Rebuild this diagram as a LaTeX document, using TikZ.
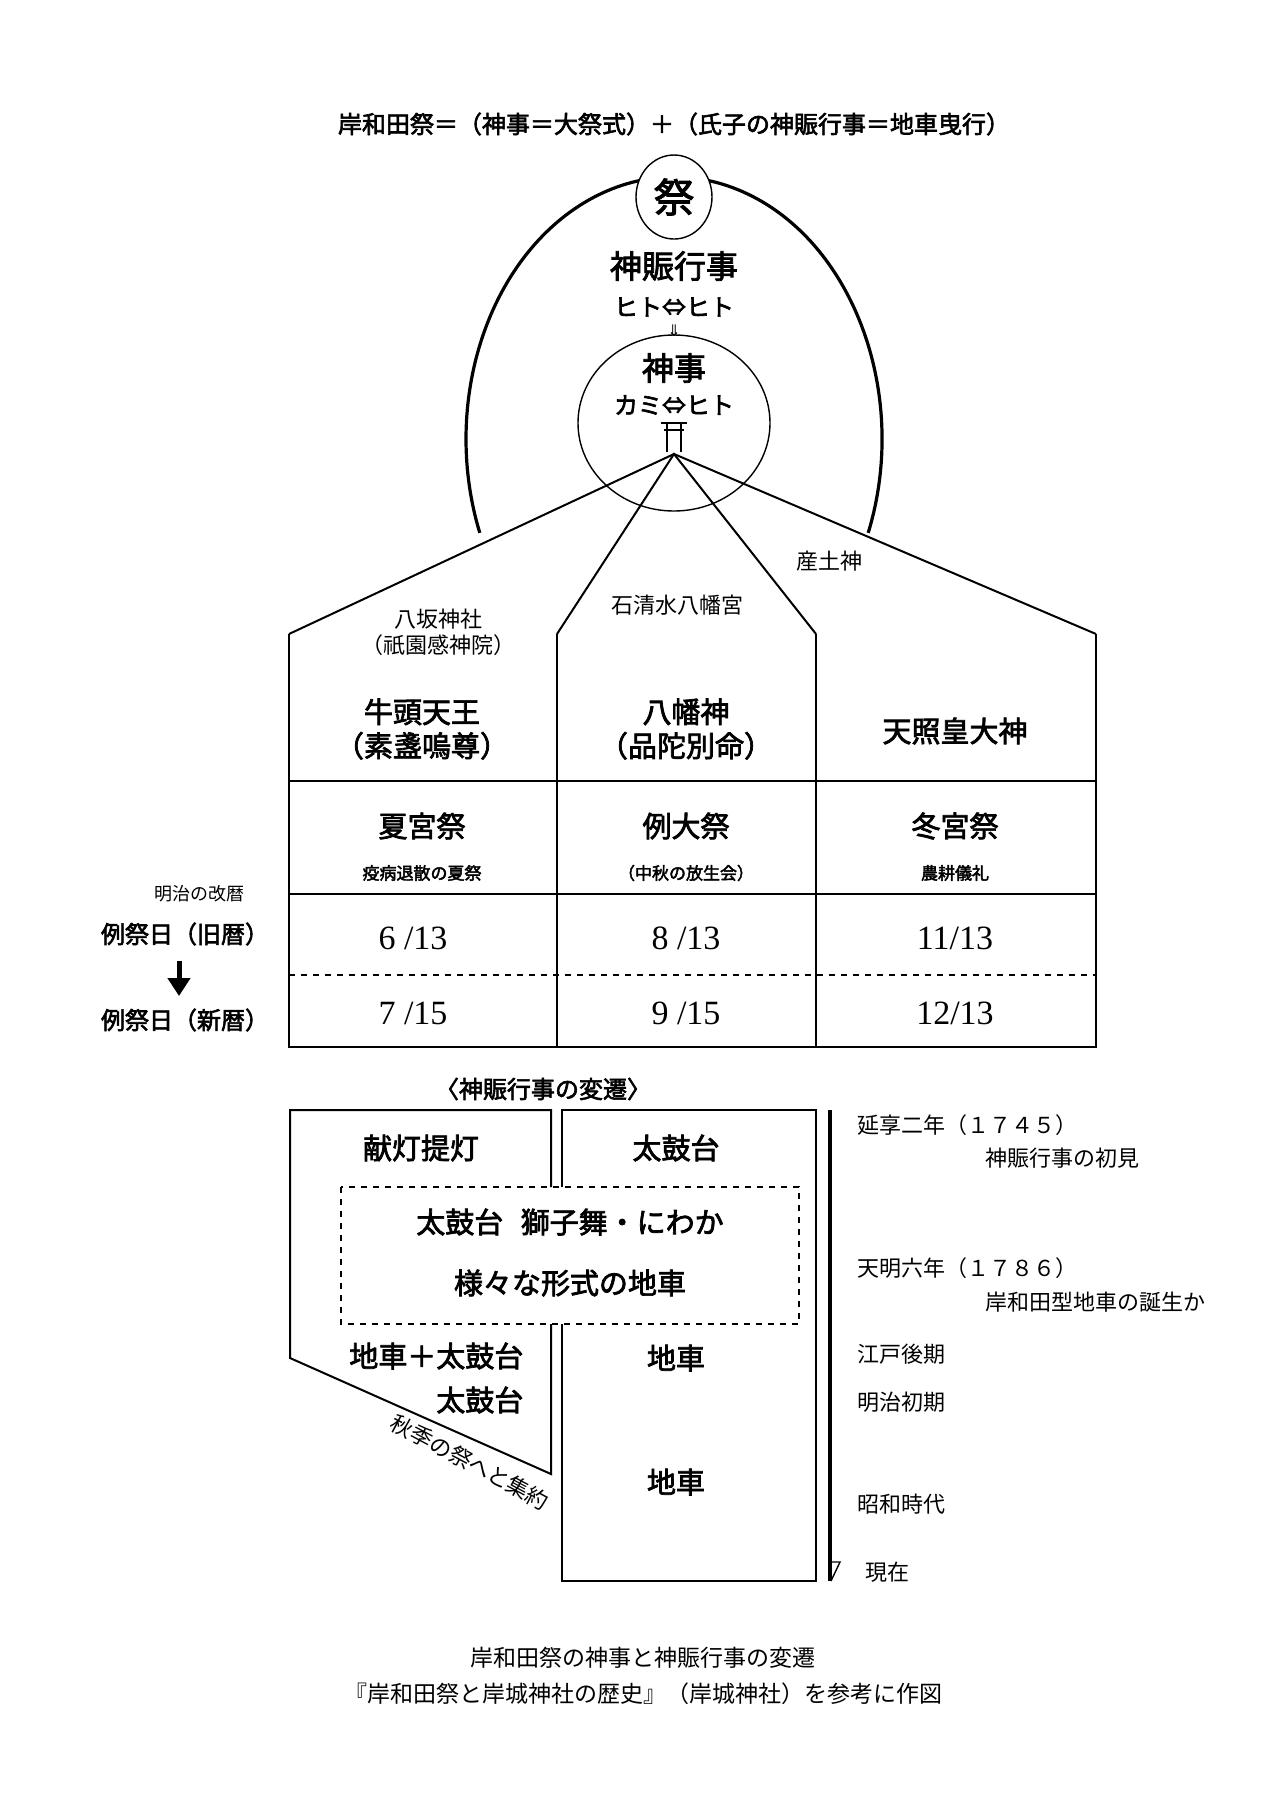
\documentclass[tikz,border=0pt]{standalone}
\usepackage{fontspec}
\setmainfont{Liberation Serif}
\newfontfamily\jp{Noto Sans CJK JP}
\newfontfamily\jpb{Noto Sans CJK JP}[FakeBold=2.5]
\newfontfamily\dejavu{DejaVu Sans}
\usetikzlibrary{arrows.meta, positioning, calc}

\begin{document}
\begin{tikzpicture}[
		x=0.5pt, y=-0.5pt,
		line width=1pt,
		heavy/.style={line width=1.6pt},
		thin/.style={line width=0.7pt},
		bigtxt/.style={font=\jpb\fontsize{14.5}{17}\selectfont, align=center},
		subtxt/.style={font=\jpb\fontsize{8.5}{10}\selectfont},
		labtxt/.style={font=\jp\fontsize{11}{13}\selectfont, align=center},
		datetxt/.style={font=\fontsize{17}{20}\selectfont},
		timetxt/.style={font=\jp\fontsize{11}{13}\selectfont, anchor=west}
		]
		
		\useasboundingbox (0,0) rectangle (1280,1811);
		
		% ---- Title ----
		\node[font=\jpb\fontsize{12}{14}\selectfont] (title) at (674,124)
		{岸和田祭＝（神事＝大祭式）＋（氏子の神賑行事＝地車曳行）};
		
		% ---- Ellipses ----
		\draw[heavy] ([shift={(21:208 and 262)}]674,439) arc[start angle=21, end angle=-201, x radius=208, y radius=262];
		\draw[thin, fill=white] (674,197) ellipse[x radius=38, y radius=42];
		\node[font=\jpb\fontsize{20}{22}\selectfont] (matsuri) at (674,197) {祭};
		\draw[thin] (674,423) ellipse[x radius=96, y radius=88];
		
		\node[font=\jpb\fontsize{16}{18}\selectfont] (nigiwai) at (674,266) {神賑行事};
		\node[font=\jpb\fontsize{12}{14}\selectfont] (hito) at (674,307) {ヒト⇔ヒト};
		\node[font=\dejavu\fontsize{8}{9}\selectfont] (down) at (674,331) {⇓};
		\node[font=\jpb\fontsize{16}{18}\selectfont] (shinji) at (674,368) {神事};
		\node[font=\jpb\fontsize{12}{14}\selectfont] (kami) at (674,405) {カミ⇔ヒト};
		% torii
		\coordinate (apex) at (674,454);
		\draw[thin] (661,423) -- (687,423);
		\draw[thin] (664,430) -- (684,430);
		\draw[thin] (667,423) -- (667,452);
		\draw[thin] (681,423) -- (681,452);
		
		% ---- Shrine building ----
		\coordinate (wl) at (289,634);
		\coordinate (d1) at (557,634);
		\coordinate (d2) at (816,634);
		\coordinate (wr) at (1096,634);
		\draw (wl) -- (apex) -- (wr);
		\draw (d1) -- (apex) -- (d2);
		\draw (wl) -- (289,1047) -- (1096,1047) -- (wr);
		\draw (d1) -- (557,1047);
		\draw (d2) -- (816,1047);
		\draw (289,781) -- (1096,781);
		\draw (289,894) -- (1096,894);
		\draw[thin, dashed] (289,975) -- (1096,975);
		
		\node[labtxt] (yasaka) at (438,632) {八坂神社\\（祇園感神院）};
		\node[labtxt] (iwashimizu) at (677,605) {石清水八幡宮};
		\node[labtxt] (ubusuna) at (829,561) {産土神};
		
		\node[bigtxt] (gozu) at (422,729) {牛頭天王\\（素盞嗚尊）};
		\node[bigtxt] (hachiman) at (686,729) {八幡神\\（品陀別命）};
		\node[bigtxt] (amaterasu) at (955,731) {天照皇大神};
		
		\node[bigtxt] (natsu) at (422,826) {夏宮祭};
		\node[subtxt] (natsusub) at (422,873) {疫病退散の夏祭};
		\node[bigtxt] (rei) at (686,826) {例大祭};
		\node[subtxt] (reisub) at (686,873) {（中秋の放生会）};
		\node[bigtxt] (fuyu) at (955,826) {冬宮祭};
		\node[subtxt] (fuyusub) at (955,873) {農耕儀礼};
		
		\node[datetxt] (o1) at (413,938) {6 /13};
		\node[datetxt] (o2) at (686,938) {8 /13};
		\node[datetxt] (o3) at (955,938) {11/13};
		\node[datetxt] (n1) at (413,1013) {7 /15};
		\node[datetxt] (n2) at (686,1013) {9 /15};
		\node[datetxt] (n3) at (955,1013) {12/13};
		
		% ---- Calendar change ----
		\node[font=\jp\fontsize{9}{11}\selectfont] (kaireki) at (199,894) {明治の改暦};
		\node[font=\jpb\fontsize{12}{14}\selectfont] (kyu) at (185,934) {例祭日（旧暦）};
		\node[font=\jpb\fontsize{12}{14}\selectfont] (shin) at (185,1020) {例祭日（新暦）};
		\draw[line width=2.5pt, -{Triangle[length=9pt, width=11pt]}] (kyu.south -| 179,0) ++(0,8) coordinate (ka) -- (179,996);
		
		% ---- Transition ----
		\node[font=\jpb\fontsize{12}{14}\selectfont] (hensen) at (543,1089) {〈神賑行事の変遷〉};
		
		\draw (551,1187) -- (551,1110) -- (290,1110) -- (290,1358) -- (551,1474) -- (551,1324);
		\draw (562,1187) -- (562,1110) -- (816,1110) -- (816,1581) -- (562,1581) -- (562,1324);
		\draw[thin, dashed] (341,1187) rectangle (799,1324);
		
		\node[bigtxt] (kento) at (421,1148) {献灯提灯};
		\node[bigtxt] (taiko1) at (676,1148) {太鼓台};
		\node[bigtxt] (shishi) at (570,1222) {太鼓台\hspace{0.6em}獅子舞・にわか};
		\node[bigtxt] (samazama) at (570,1283) {様々な形式の地車};
		\node[bigtxt, anchor=east] (jtaiko) at (531,1356) {地車＋太鼓台};
		\node[bigtxt, anchor=east] (taiko2) at (531,1400) {太鼓台};
		\node[bigtxt] (dan1) at (676,1358) {地車};
		\node[bigtxt] (dan2) at (676,1482) {地車};
		\node[labtxt, rotate=-28] (shuyaku) at (470,1462) {秋季の祭へと集約};
		
		% ---- Timeline ----
		\draw[heavy] (830,1110) -- (830,1581);
		\draw[thin] (830,1562) -- (840,1562) -- (831,1581);
		\node[timetxt] (t1) at (850,1125) {延享二年（１７４５）};
		\node[timetxt] (t1b) at (978,1158) {神賑行事の初見};
		\node[timetxt] (t2) at (850,1268) {天明六年（１７８６）};
		\node[timetxt] (t2b) at (978,1302) {岸和田型地車の誕生か};
		\node[timetxt] (t3) at (850,1354) {江戸後期};
		\node[timetxt] (t4) at (850,1402) {明治初期};
		\node[timetxt] (t5) at (850,1504) {昭和時代};
		\node[timetxt] (t6) at (858,1572) {現在};
		
		% ---- Caption ----
		\node[font=\jp\fontsize{11.5}{14}\selectfont] (cap1) at (643,1658) {岸和田祭の神事と神賑行事の変遷};
		\node[font=\jp\fontsize{11.5}{14}\selectfont] (cap2) at (643,1694) {『岸和田祭と岸城神社の歴史』（岸城神社）を参考に作図};
		
\end{tikzpicture}
\end{document}
